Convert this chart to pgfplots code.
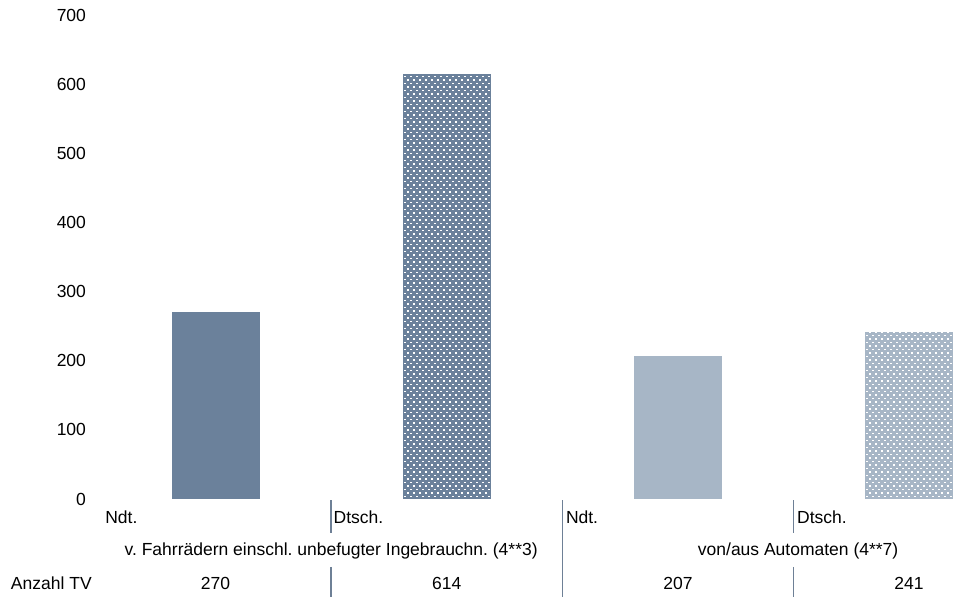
\documentclass[border=0pt]{standalone}
\usepackage{pgfplots}
\pgfplotsset{compat=1.18}
\usepackage{fontspec}
\setmainfont{Liberation Sans}
\usetikzlibrary{patterns.meta}
\definecolor{dark}{RGB}{107,129,155}
\definecolor{light}{RGB}{167,182,198}
\definecolor{sep}{RGB}{110,128,150}
\tikzdeclarepattern{
  name=wdots,
  type=uncolored,
  bottom left={(-1pt,-1pt)},
  top right={(5pt,6pt)},
  tile size={(6pt,7pt)},
  code={
    \fill (-0.8pt,-0.8pt) rectangle (0.8pt,0.8pt);
    \fill (2.2pt,2.7pt) rectangle (3.8pt,4.3pt);
  }
}
\begin{document}
\frenchspacing
\fontsize{17.5}{20}\selectfont
\begin{tikzpicture}
\path[use as bounding box] (-100pt,-99pt) rectangle (853pt,499pt);
\begin{axis}[
  at={(0,0)}, anchor=south west,
  scale only axis, width=853pt, height=484pt,
  xmin=-0.5, xmax=3.19, ymin=0, ymax=700,
  ytick={0,100,...,700}, xtick=\empty,
  axis line style={draw=none}, major tick length=0pt,
  yticklabel style={xshift=-8pt},
  /pgf/number format/assume math mode=true,
  ybar, bar width=0.38, bar shift=0pt,
  clip=false,
]
\addplot[draw=none, fill=dark] coordinates {(0,270)};
\addplot[draw=none, fill=dark, postaction={pattern=wdots, pattern color=white}] coordinates {(1,614)};
\addplot[draw=none, fill=light] coordinates {(2,207)};
\addplot[draw=none, fill=light, postaction={pattern=wdots, pattern color=white}] coordinates {(3,241)};
% table below the axis
\draw[sep, line width=1.5pt] (axis cs:0.5,-1.5) -- (axis cs:0.5,-49);
\draw[sep, line width=1.5pt] (axis cs:0.5,-98) -- (axis cs:0.5,-142);
\draw[sep, line width=1.5pt] (axis cs:1.5,-1.5) -- (axis cs:1.5,-142);
\draw[sep, line width=1.5pt] (axis cs:2.5,-1.5) -- (axis cs:2.5,-49);
\draw[sep, line width=1.5pt] (axis cs:2.5,-98) -- (axis cs:2.5,-142);
\node[anchor=west, inner sep=0pt] at (axis cs:-0.478,-26) {Ndt.};
\node[anchor=west, inner sep=0pt] at (axis cs:0.51,-26) {Dtsch.};
\node[anchor=west, inner sep=0pt] at (axis cs:1.515,-26) {Ndt.};
\node[anchor=west, inner sep=0pt] at (axis cs:2.515,-26) {Dtsch.};
\node at (axis cs:0.5,-75) {v. Fahrrädern einschl. unbefugter Ingebrauchn. (4**3)};
\node at (axis cs:2.52,-75) {von/aus Automaten (4**7)};
\node[anchor=east, inner sep=0pt] at (axis cs:-0.535,-121.5) {Anzahl TV};
\node at (axis cs:0,-121.5) {270};
\node at (axis cs:1,-121.5) {614};
\node at (axis cs:2,-121.5) {207};
\node at (axis cs:3,-121.5) {241};
\end{axis}
\end{tikzpicture}
\end{document}
